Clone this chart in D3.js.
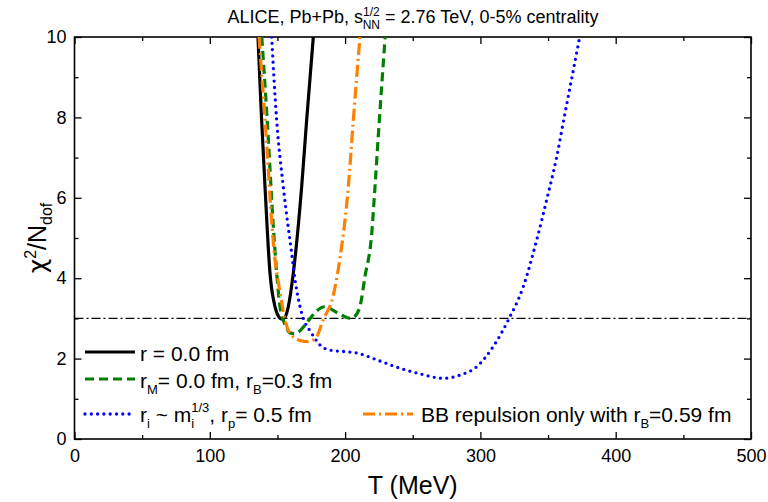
<!DOCTYPE html>
<html>
<head>
<meta charset="utf-8">
<script src="https://d3js.org/d3.v7.min.js"></script>
<style>
  body { margin: 0; background: #fff; }
  svg text { font-family: "Liberation Sans", Arial, sans-serif; fill: #000; }
</style>
</head>
<body>
<svg id="chart" width="768" height="502"></svg>
<script>
// chi^2/Ndof vs T (MeV)
var tBlack  = [135.6, 138.3, 140.8, 144.5, 148.2, 151.0, 153.4, 155.8, 158.0, 161.7, 167.9, 171.6, 176.5];
var cBlack  = [10, 7.94, 6.28, 4.12, 3.29, 3.04, 2.98, 3.04, 3.29, 4.12, 6.28, 7.94, 10];

var tGreen  = [138.4, 142.3, 147.5, 151.9, 155.5, 159.3, 163.0, 170.5, 174.2, 177.9, 185.0, 194.8, 204.2, 208.8, 211.2, 214.7, 219.7, 222.1, 224.5, 227.0, 229.6];
var cGreen  = [10, 8.0, 5.0, 3.29, 2.85, 2.64, 2.62, 2.84, 3.0, 3.15, 3.29, 3.13, 3.0, 3.12, 3.33, 4.04, 5.12, 6.28, 7.52, 8.76, 10];

var tBlue   = [145.7, 149.4, 154.3, 160.5, 163.0, 167.9, 175.3, 181.4, 188.8, 201.0, 208.6, 223.3, 240.6, 255.4, 272.6, 284.9, 297.3, 309.5, 320.6, 331.7, 341.6, 349.0, 356.4, 362.5, 368.7, 373.4];
var cBlue   = [10, 7.94, 6.28, 4.62, 3.96, 3.13, 2.63, 2.34, 2.21, 2.17, 2.14, 1.97, 1.76, 1.62, 1.51, 1.59, 1.80, 2.30, 2.96, 3.79, 4.95, 5.95, 7.02, 8.10, 9.18, 10];

var tOrange = [136.4, 140.8, 147.7, 152.0, 155.6, 159.3, 166.7, 172.6, 179.0, 183.7, 191.0, 196.0, 202.4, 206.0, 211.0];
var cOrange = [10, 7.94, 4.62, 3.63, 2.96, 2.63, 2.45, 2.42, 2.55, 2.96, 3.54, 4.45, 6.28, 7.9, 10];

var refLevel = 3;
var xTicks = [0, 100, 200, 300, 400, 500];
var yTicks = [0, 2, 4, 6, 8, 10];
var xMinor = d3.range(0, 501, 50), yMinor = d3.range(0, 11, 1);

var svg = d3.select("#chart");
var x = d3.scaleLinear().domain([0, 500]).range([74.5, 751]);
var y = d3.scaleLinear().domain([0, 10]).range([439, 37]);

svg.append("clipPath").attr("id", "clip")
  .append("rect").attr("x", x(0)).attr("y", y(10)).attr("width", x(500) - x(0)).attr("height", y(0) - y(10));

// axes with inward ticks, mirrored on top / right
var axB = svg.append("g").attr("transform", "translate(0," + y(0) + ")")
  .call(d3.axisBottom(x).tickValues(xMinor).tickSize(-4).tickFormat(""));
axB.selectAll(".tick line").filter(d => d % 100 == 0).attr("y2", -7);
var axBLab = svg.append("g").attr("transform", "translate(0," + y(0) + ")")
  .call(d3.axisBottom(x).tickValues(xTicks).tickSize(0).tickPadding(10));

var axT = svg.append("g").attr("transform", "translate(0," + y(10) + ")")
  .call(d3.axisTop(x).tickValues(xMinor).tickSize(-4).tickFormat(""));
axT.selectAll(".tick line").filter(d => d % 100 == 0).attr("y2", 7);

var axL = svg.append("g").attr("transform", "translate(" + x(0) + ",0)")
  .call(d3.axisLeft(y).tickValues(yMinor).tickSize(-4).tickFormat(""));
axL.selectAll(".tick line").filter(d => d % 2 == 0).attr("x2", 7);
var axLLab = svg.append("g").attr("transform", "translate(" + x(0) + ",0)")
  .call(d3.axisLeft(y).tickValues(yTicks).tickSize(0).tickPadding(8));

var axR = svg.append("g").attr("transform", "translate(" + x(500) + ",0)")
  .call(d3.axisRight(y).tickValues(yMinor).tickSize(-4).tickFormat(""));
axR.selectAll(".tick line").filter(d => d % 2 == 0).attr("x2", -7);

svg.selectAll(".domain").remove();
svg.selectAll(".tick line").attr("stroke", "#000").attr("stroke-width", 1.3);
svg.selectAll(".tick text").attr("font-size", 18).attr("font-family", "Liberation Sans, Arial, sans-serif").attr("fill", "#000");

// frame
svg.append("rect")
  .attr("x", x(0)).attr("y", y(10))
  .attr("width", x(500) - x(0)).attr("height", y(0) - y(10))
  .attr("fill", "none").attr("stroke", "#000").attr("stroke-width", 1.6);

// reference line at chi2/Ndof = 3
svg.append("line")
  .attr("x1", x(0)).attr("x2", x(500)).attr("y1", y(refLevel)).attr("y2", y(refLevel))
  .attr("stroke", "#000").attr("stroke-width", 1.3).attr("stroke-dasharray", "9,3,2,3");

var line = d3.line().x(d => x(d[0])).y(d => y(d[1])).curve(d3.curveMonotoneX);
var curves = [
  { t: tBlack, c: cBlack, color: "#000000", dash: null, w: 3.2, cap: "butt" },
  { t: tGreen, c: cGreen, color: "#008000", dash: "9,5", w: 3.2, cap: "butt" },
  { t: tBlue, c: cBlue, color: "#0000ff", dash: "0,6.3", w: 3.3, cap: "round" },
  { t: tOrange, c: cOrange, color: "#ff8000", dash: "12,4,2,4", w: 3.2, cap: "butt" }
];

var cg = svg.append("g").attr("clip-path", "url(#clip)");
curves.forEach(function(s) {
  cg.append("path")
    .datum(s.t.map((t, i) => [t, s.c[i]]))
    .attr("d", line)
    .attr("fill", "none")
    .attr("stroke", s.color)
    .attr("stroke-width", s.w)
    .attr("stroke-linecap", s.cap)
    .attr("stroke-dasharray", s.dash);
});

// legend
var leg = [
  { s: curves[0], x: 85, y: 352 },
  { s: curves[1], x: 85, y: 379 },
  { s: curves[2], x: 85, y: 414 },
  { s: curves[3], x: 363, y: 414 }
];
leg.forEach(function(l) {
  svg.append("line")
    .attr("x1", l.x).attr("x2", l.x + 50).attr("y1", l.y).attr("y2", l.y)
    .attr("stroke", l.s.color).attr("stroke-width", l.s.w)
    .attr("stroke-linecap", l.s.cap).attr("stroke-dasharray", l.s.dash);
});

var fs = 21, ss = 13;
svg.append("text").attr("x", 140).attr("y", 361).attr("font-size", fs).text("r = 0.0 fm");

var t2 = svg.append("text").attr("x", 140).attr("y", 388).attr("font-size", fs);
t2.append("tspan").text("r");
t2.append("tspan").text("M").attr("font-size", ss).attr("dy", 6);
t2.append("tspan").text("= 0.0 fm, r").attr("dy", -6);
t2.append("tspan").text("B").attr("font-size", ss).attr("dy", 6);
t2.append("tspan").text("=0.3 fm").attr("dy", -6);

var t3 = svg.append("text").attr("x", 140).attr("y", 422).attr("font-size", fs);
t3.append("tspan").text("r");
t3.append("tspan").text("i").attr("font-size", ss).attr("dy", 6);
t3.append("tspan").text(" ~ m").attr("dy", -6);
t3.append("tspan").text("i").attr("font-size", ss).attr("dy", 6);
t3.append("tspan").text("1/3").attr("font-size", ss).attr("dx", -3).attr("dy", -16);
t3.append("tspan").text(", r").attr("dy", 10);
t3.append("tspan").text("p").attr("font-size", ss).attr("dy", 6);
t3.append("tspan").text("= 0.5 fm").attr("dy", -6);

var t4 = svg.append("text").attr("x", 421).attr("y", 422).attr("font-size", fs);
t4.append("tspan").text("BB repulsion only with r");
t4.append("tspan").text("B").attr("font-size", ss).attr("dy", 6);
t4.append("tspan").text("=0.59 fm").attr("dy", -6);

// title
var tt = svg.append("text").attr("x", 413).attr("y", 23).attr("font-size", 18).attr("text-anchor", "middle");
tt.append("tspan").text("ALICE, Pb+Pb, s");
tt.append("tspan").text("1/2").attr("font-size", 12).attr("dy", -7);
tt.append("tspan").text("NN").attr("font-size", 12).attr("dx", -17).attr("dy", 13);
tt.append("tspan").text(" = 2.76 TeV, 0-5% centrality").attr("dy", -6);

// axis titles
svg.append("text").attr("x", x(250)).attr("y", 494).attr("font-size", 25)
  .attr("text-anchor", "middle").text("T (MeV)");

var yl = svg.append("text").attr("transform", "translate(46," + y(5) + ") rotate(-90)")
  .attr("font-size", 25).attr("text-anchor", "middle");
yl.append("tspan").text("\u03c7").attr("font-family", "DejaVu Sans");
yl.append("tspan").text("2").attr("font-size", 16).attr("dy", -10);
yl.append("tspan").text("/N").attr("dy", 10);
yl.append("tspan").text("dof").attr("font-size", 16).attr("dy", 6);
</script>
</body>
</html>
